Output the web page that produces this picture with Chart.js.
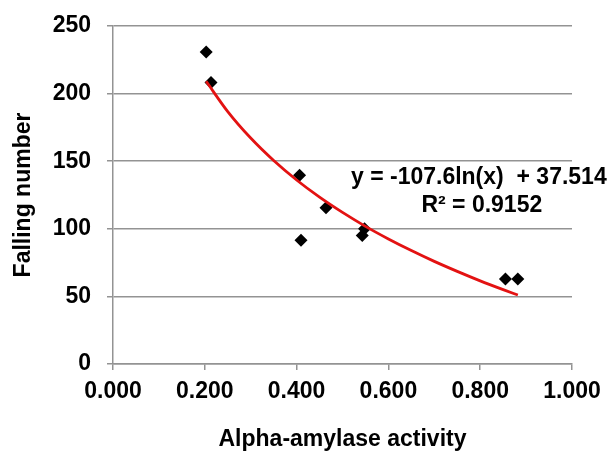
<!DOCTYPE html>
<html>
<head>
<meta charset="utf-8">
<script src="https://cdn.jsdelivr.net/npm/chart.js@4.4.1/dist/chart.umd.min.js"></script>
<style>
  html, body { margin: 0; padding: 0; background: #fff; }
  #wrap { width: 614px; height: 453px; }
</style>
</head>
<body>
<div id="wrap"><canvas id="chart" width="614" height="453"></canvas></div>
<script>
// dados
const activity = [0.203, 0.2135, 0.4065, 0.4096, 0.464, 0.543, 0.548, 0.855, 0.882];
const fallingNumber = [230.8, 208.2, 139.7, 91.6, 115.5, 95, 100, 62.8, 62.8];

// linha de tendência logarítmica (lida ao longo da curva vermelha)
const trendX = [0.203, 0.25, 0.3, 0.35, 0.4, 0.45, 0.5, 0.55, 0.6, 0.65, 0.7, 0.75, 0.8, 0.85, 0.882];
const trendY = [209.1, 186.7, 167.1, 150.5, 136.1, 123.4, 112.1, 101.8, 92.5, 83.9, 75.9, 68.5, 61.5, 55.0, 51.0];

const xTicks = [0, 0.2, 0.4, 0.6, 0.8, 1.0];
const yTicks = [0, 50, 100, 150, 200, 250];

const equationLines = ['y = -107.6ln(x)  + 37.514', 'R\u00b2 = 0.9152'];

const FONT = "'Liberation Sans', Arial, sans-serif";
const GRID = '#939393';

// escreve a equação da tendência ancorada nas escalas
const equationPlugin = {
  id: 'equation',
  afterDatasetsDraw(chart) {
    const ctx = chart.ctx;
    const xs = chart.scales.x, ys = chart.scales.y;
    const cx = xs.getPixelForValue(0.797);
    ctx.save();
    ctx.fillStyle = '#000';
    ctx.font = 'bold 23px ' + FONT;
    ctx.textAlign = 'center';
    ctx.textBaseline = 'middle';
    ctx.fillText(equationLines[0], cx, ys.getPixelForValue(137.5));
    ctx.fillText(equationLines[1], cx + 3, ys.getPixelForValue(117));
    ctx.restore();
  }
};

new Chart(document.getElementById('chart'), {
  type: 'scatter',
  data: {
    datasets: [
      {
        label: 'Falling number',
        data: activity.map((x, i) => ({ x: x, y: fallingNumber[i] })),
        pointStyle: 'rectRot',
        pointRadius: 6.5,
        backgroundColor: '#000',
        borderColor: '#000',
        borderWidth: 0,
        order: 2
      },
      {
        type: 'line',
        label: 'Log trend',
        data: trendX.map((x, i) => ({ x: x, y: trendY[i] })),
        borderColor: '#e31212',
        borderWidth: 2.8,
        pointRadius: 0,
        fill: false,
        tension: 0.4,
        cubicInterpolationMode: 'monotone',
        order: 1
      }
    ]
  },
  options: {
    responsive: false,
    animation: false,
    layout: { padding: { top: 26, right: 42, left: 0, bottom: 0 } },
    plugins: {
      legend: { display: false },
      tooltip: { enabled: false }
    },
    scales: {
      x: {
        type: 'linear',
        min: 0,
        max: 1,
        afterBuildTicks(scale) { scale.ticks = xTicks.map(v => ({ value: v })); },
        afterFit(scale) { scale.height = 453 - 364; },
        ticks: {
          color: '#000',
          font: { family: FONT, size: 23, weight: 'bold' },
          padding: 8,
          maxRotation: 0,
          callback: v => Number(v).toFixed(3)
        },
        grid: { drawOnChartArea: false, drawTicks: true, tickLength: 6, color: GRID, lineWidth: 1.5 },
        border: { display: true, color: GRID, width: 1.5 },
        title: {
          display: true,
          text: 'Alpha-amylase activity',
          color: '#000',
          font: { family: FONT, size: 23, weight: 'bold' },
          padding: { top: 0, bottom: 0 }
        }
      },
      y: {
        type: 'linear',
        min: 0,
        max: 250,
        afterBuildTicks(scale) { scale.ticks = yTicks.map(v => ({ value: v })); },
        afterFit(scale) {
          scale.width = 113;
          scale.paddingTop = 0;
          scale.paddingBottom = 0;
        },
        ticks: {
          color: '#000',
          font: { family: FONT, size: 23, weight: 'bold' },
          padding: 16
        },
        grid: { drawTicks: true, tickLength: 6, color: GRID, lineWidth: 1.5 },
        border: { display: true, color: GRID, width: 1.5 },
        title: {
          display: true,
          text: 'Falling number',
          color: '#000',
          font: { family: FONT, size: 23, weight: 'bold' },
          padding: { top: 10, bottom: 0 }
        }
      }
    }
  },
  plugins: [equationPlugin]
});
</script>
</body>
</html>
